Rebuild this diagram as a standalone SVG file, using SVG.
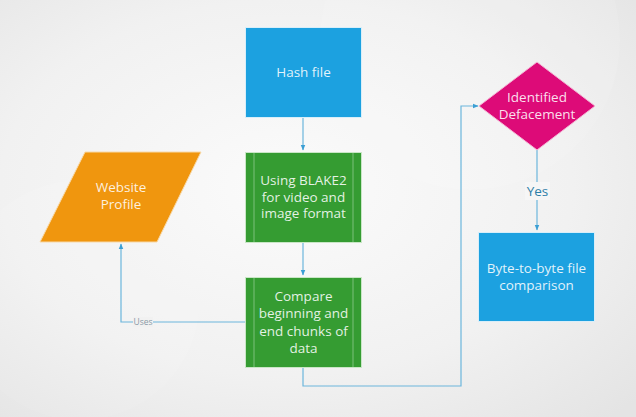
<svg xmlns="http://www.w3.org/2000/svg" width="636" height="417" viewBox="0 0 636 417">
<defs>
<radialGradient id="bg" cx="0.45" cy="0.45" r="0.75">
<stop offset="0" stop-color="#fbfbfb"/>
<stop offset="0.6" stop-color="#f1f1f1"/>
<stop offset="1" stop-color="#e4e4e4"/>
</radialGradient>
<marker id="arr" viewBox="0 0 10 10" refX="9" refY="5" markerWidth="5" markerHeight="5" orient="auto">
<path d="M0,1 L10,5 L0,9 z" fill="#3b9fd4"/>
</marker>
<style>
.t{font-family:"Open Sans","Noto Sans","DejaVu Sans",sans-serif;font-size:13.5px;fill:#ffffff;fill-opacity:0.88;text-anchor:middle}
.c{fill:none;stroke:#6cb6dc;stroke-width:1.2}
.blue{fill:#1ca1e0;stroke:#d8eef9;stroke-width:1}
.green{fill:#359c32;stroke:#c9e6c6;stroke-width:1}
.inner{stroke:#7cc07a;stroke-width:1}
.lbl{font-family:"Open Sans","Noto Sans","DejaVu Sans",sans-serif;text-anchor:middle}
</style>
</defs>
<rect x="0" y="0" width="636" height="417" fill="url(#bg)"/>
<circle cx="470" cy="40" r="150" fill="#ffffff" fill-opacity="0.1"/>
<circle cx="80" cy="300" r="120" fill="#ffffff" fill-opacity="0.08"/>
<g id="connectors">
<path class="c" d="M303,117 L303,150" marker-end="url(#arr)"/>
<path class="c" d="M303,242 L303,275" marker-end="url(#arr)"/>
<path class="c" d="M246,322 L121,322 L121,244" marker-end="url(#arr)"/>
<path class="c" d="M303,367 L303,386 L461,386 L461,106 L478,106" marker-end="url(#arr)"/>
<path class="c" d="M537,150 L537,230" marker-end="url(#arr)"/>
<rect x="133" y="317" width="20" height="10" fill="#f1f1f1"/>
<text class="lbl" x="143" y="325" font-size="8.5" fill="#8a9aa6">Uses</text>
<rect x="525" y="182" width="25" height="18" fill="#f6f6f6"/>
<text class="lbl" x="537.5" y="196" font-size="13.5" fill="#2f7fa8">Yes</text>
</g>
<g id="hash">
<rect class="blue" x="245.5" y="27.5" width="116" height="90"/>
<text class="t" x="303.5" y="77">Hash file</text>
</g>
<g id="blake">
<rect class="green" x="245.5" y="152.5" width="116" height="90"/>
<line class="inner" x1="254" y1="153" x2="254" y2="242"/>
<line class="inner" x1="353" y1="153" x2="353" y2="242"/>
<text class="t" x="303.5" y="185">Using BLAKE2</text>
<text class="t" x="303.5" y="201.5">for video and</text>
<text class="t" x="303.5" y="218">image format</text>
</g>
<g id="compare">
<rect class="green" x="245.5" y="277.5" width="116" height="90"/>
<line class="inner" x1="254" y1="278" x2="254" y2="367"/>
<line class="inner" x1="353" y1="278" x2="353" y2="367"/>
<text class="t" x="303.5" y="300.5">Compare</text>
<text class="t" x="303.5" y="318">beginning and</text>
<text class="t" x="303.5" y="335.5">end chunks of</text>
<text class="t" x="303.5" y="352.5">data</text>
</g>
<g id="website">
<polygon points="85,152 201,152 157,242 40,242" fill="#f0960e" stroke="#f8d9a8" stroke-width="1"/>
<text class="t" x="121" y="192">Website</text>
<text class="t" x="121" y="209">Profile</text>
</g>
<g id="decision">
<polygon points="537,62 595,106 537,150 479,106" fill="#dd0b78" stroke="#f3b6d4" stroke-width="1"/>
<text class="t" x="537" y="102">Identified</text>
<text class="t" x="537" y="119">Defacement</text>
</g>
<g id="byte">
<rect class="blue" x="478.5" y="232.5" width="116" height="89"/>
<text class="t" x="536.5" y="273">Byte-to-byte file</text>
<text class="t" x="536.5" y="290">comparison</text>
</g>
</svg>
